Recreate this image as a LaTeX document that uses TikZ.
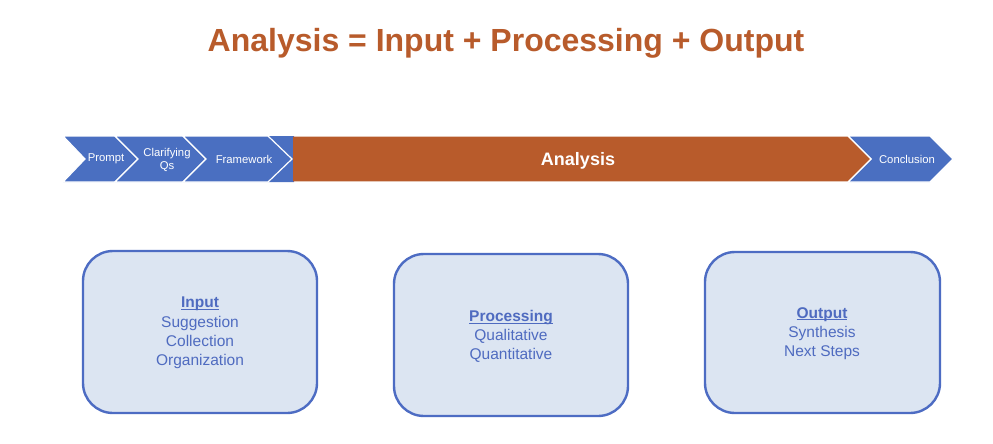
\documentclass[tikz,border=0pt]{standalone}
\usepackage{fontspec}
\setmainfont{Liberation Sans}
\definecolor{rust}{HTML}{B85B2B}
\definecolor{chev}{HTML}{4A6FC1}
\definecolor{boxfill}{HTML}{DCE5F2}
\definecolor{boxline}{HTML}{4D6CC3}
\definecolor{boxtext}{HTML}{4F6BC0}
\newsavebox{\ulbox}
\newcommand{\ulbold}[1]{\sbox{\ulbox}{\textbf{#1}}\rlap{\usebox{\ulbox}}\raisebox{-2.3pt}{\rule{\wd\ulbox}{1.1pt}}}
\begin{document}
\begin{tikzpicture}[x=1pt,y=-1pt,
  chevshape/.style={fill=chev,draw=white,line width=1.2pt,line join=miter},
  chevtext/.style={text=white,font=\fontsize{11.3}{13}\selectfont,align=center},
  panel/.style={draw=boxline,fill=boxfill,line width=2.4pt,rounded corners=30pt},
  paneltext/.style={text=boxtext,font=\fontsize{15.5}{19.3}\selectfont,align=center}]
\useasboundingbox[fill=white] (0,0) rectangle (993,444);
% title
\node[text=rust,font=\fontsize{32}{36}\selectfont\bfseries] (title) at (506,43) {Analysis = Input + Processing + Output};
% chevron band
\fill[chev] (268,136) -- (294,136) -- (294,182) -- (268,182) -- (292,159) -- cycle;
\path[chevshape] (63,136) -- (115,136) -- (138,159) -- (115,182) -- (63,182) -- (85,159) -- cycle;
\path[chevshape] (115,136) -- (183,136) -- (206,159) -- (183,182) -- (115,182) -- (138,159) -- cycle;
\path[chevshape] (183,136) -- (268,136) -- (292,159) -- (268,182) -- (183,182) -- (206,159) -- cycle;
\path[chevshape] (848,136) -- (930,136) -- (953,159) -- (930,182) -- (848,182) -- (871,159) -- cycle;
\fill[rust] (293,136.6) -- (848,136.6) -- (871,159) -- (848,181.4) -- (293,181.4) -- cycle;
\draw[white,line width=1.2pt] (848,136) -- (871,159) -- (848,182);
\node[chevtext] (prompt) at (106,159) {Prompt};
\node[chevtext] (clar) at (167,160) {Clarifying\\Qs};
\node[chevtext] (frame) at (244,159.5) {Framework};
\node[text=white,font=\fontsize{18}{20}\selectfont\bfseries] (analysis) at (578,160.5) {Analysis};
\node[chevtext] (concl) at (907,159) {Conclusion};
% panels
\draw[panel] (83,251) rectangle (317,413);
\draw[panel] (394,254) rectangle (628,416);
\draw[panel] (705,252) rectangle (940,413);
\node[paneltext] (input) at (200,333) {\ulbold{Input}\\Suggestion\\Collection\\Organization};
\node[paneltext] (proc) at (511,336.5) {\ulbold{Processing}\\Qualitative\\Quantitative};
\node[paneltext] (out) at (822,333.5) {\ulbold{Output}\\Synthesis\\Next Steps};
\end{tikzpicture}
\end{document}
